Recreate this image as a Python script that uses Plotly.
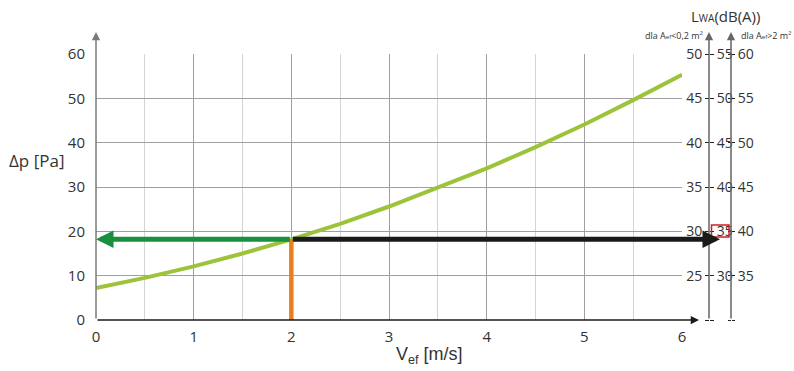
import plotly.graph_objects as go

# ---- data ----
v_ef = [0, 0.5, 1, 1.5, 2, 2.5, 3, 3.5, 4, 4.5, 5, 5.5, 6]
dp = [7.2, 9.5, 12.1, 15.0, 18.2, 21.7, 25.6, 29.8, 34.2, 39.0, 44.1, 49.6, 55.3]
x_ticks = [0, 1, 2, 3, 4, 5, 6]
dp_ticks = [0, 10, 20, 30, 40, 50, 60]
v_sel = 2.0
dp_sel = 18.2
lwa_small = [20, 25, 30, 35, 40, 45, 50]   # dla Aef<0,2 m²
lwa_mid = [25, 30, 35, 40, 45, 50, 55]
lwa_large = [30, 35, 40, 45, 50, 55, 60]   # dla Aef>2 m²
lwa_highlight = 35

W, H = 794, 371
ML, MR, MT, MB = 96, 0, 54, 51
PW = W - ML - MR
PH = H - MT - MB


def px(xpix):
    return (xpix - ML) / PW


def py(ypix):
    return (H - MB - ypix) / PH


FONT = "Open Sans"
TXT = "#333333"
DARK_GRID = "#a0a0a0"
LIGHT_GRID = "#d4d4d4"
AX_GRAY = "#7a7a7a"

fig = go.Figure()

fig.add_trace(go.Scatter(x=v_ef, y=dp, mode="lines",
                         line=dict(color="#9dc33b", width=4),
                         hoverinfo="skip", showlegend=False))
fig.add_trace(go.Scatter(x=[v_sel, v_sel], y=[0, dp_sel], mode="lines",
                         line=dict(color="#e8801e", width=4.5),
                         hoverinfo="skip", showlegend=False))

# invisible traces registering the right-hand axes
for ax_name, vals in (("y2", lwa_small), ("y3", lwa_mid), ("y4", lwa_large), ("y5", lwa_large)):
    fig.add_trace(go.Scatter(x=[0] * len(vals), y=vals, yaxis=ax_name, mode="markers",
                             marker=dict(opacity=0), hoverinfo="skip", showlegend=False))

ax1 = px(709)
ax2 = px(731)
tickfont_r = dict(family=FONT, size=14, color=TXT)


def lab(vals):
    return [str(v) if i > 0 else "" for i, v in enumerate(vals)]


fig.update_layout(
    width=W, height=H,
    margin=dict(l=ML, r=MR, t=MT, b=MB, autoexpand=False),
    paper_bgcolor="white", plot_bgcolor="white",
    showlegend=False,
    xaxis=dict(range=[0, 6], domain=[0, px(682)], tickvals=x_ticks,
               showgrid=True, gridcolor=DARK_GRID, gridwidth=1,
               minor=dict(dtick=0.5, showgrid=True, gridcolor=LIGHT_GRID, gridwidth=1),
               zeroline=False, showline=False,
               ticks="outside", ticklen=3, tickcolor="rgba(0,0,0,0)",
               tickfont=dict(family=FONT, size=15, color=TXT)),
    yaxis=dict(range=[0, 60], tickvals=dp_ticks,
               showgrid=True, gridcolor=DARK_GRID, gridwidth=1,
               zeroline=False, showline=False,
               ticks="outside", ticklen=7, tickcolor="rgba(0,0,0,0)",
               tickfont=dict(family=FONT, size=15, color=TXT)),
    yaxis2=dict(overlaying="y", anchor="free", position=ax1, side="left",
                range=[lwa_small[0], lwa_small[-1]], tickvals=lwa_small, ticktext=lab(lwa_small),
                showgrid=False, zeroline=False, showline=False,
                ticks="outside", ticklen=4, tickcolor="#222", tickwidth=1.2,
                tickfont=tickfont_r),
    yaxis3=dict(overlaying="y", anchor="free", position=ax1, side="right",
                range=[lwa_mid[0], lwa_mid[-1]], tickvals=lwa_mid, ticktext=lab(lwa_mid),
                showgrid=False, zeroline=False, showline=False,
                ticks="outside", ticklen=4, tickcolor="#222", tickwidth=1.2,
                tickfont=tickfont_r),
    yaxis4=dict(overlaying="y", anchor="free", position=ax2, side="right",
                range=[lwa_large[0], lwa_large[-1]], tickvals=lwa_large, ticktext=lab(lwa_large),
                showgrid=False, zeroline=False, showline=False,
                ticks="outside", ticklen=3, tickcolor="#222", tickwidth=1.2,
                tickfont=tickfont_r),
    yaxis5=dict(overlaying="y", anchor="free", position=ax2, side="left",
                range=[lwa_large[0], lwa_large[-1]], tickvals=lwa_large,
                showticklabels=False,
                showgrid=False, zeroline=False, showline=False,
                ticks="outside", ticklen=3, tickcolor="#222", tickwidth=1.2),
)

tip_y = py(32)
anns = []
# y axis line with arrow
anns.append(dict(x=0, y=tip_y, xref="x", yref="paper", ax=0, ay=(H - MB) - 32,
                 axref="pixel", ayref="pixel", text="", showarrow=True,
                 arrowhead=2, arrowsize=1.1, arrowwidth=1.5, arrowcolor=AX_GRAY))
# x axis line with arrow
anns.append(dict(x=px(699), y=0, xref="paper", yref="y", ax=-(699 - ML), ay=0,
                 text="", showarrow=True,
                 arrowhead=2, arrowsize=1.1, arrowwidth=1.5, arrowcolor="#1a1a1a"))
# right axes lines with arrows
for axx in (ax1, ax2):
    anns.append(dict(x=axx, y=tip_y, xref="paper", yref="paper", ax=0, ay=(H - MB) - 32,
                     text="", showarrow=True,
                     arrowhead=2, arrowsize=1.1, arrowwidth=1.5, arrowcolor="#666666"))
# green arrow to dp axis
anns.append(dict(x=0, y=dp_sel, xref="x", yref="y", ax=v_sel, ay=dp_sel,
                 axref="x", ayref="y", text="", showarrow=True,
                 arrowhead=2, arrowsize=0.7, arrowwidth=5, arrowcolor="#189040"))
# black arrow to LWA axis
x_sel_pix = ML + v_sel / 6 * (682 - ML)
anns.append(dict(x=px(720), y=dp_sel, xref="paper", yref="y", ax=-(720 - x_sel_pix), ay=0,
                 text="", showarrow=True,
                 arrowhead=2, arrowsize=0.7, arrowwidth=5, arrowcolor="#1a1a1a"))
# titles
anns.append(dict(x=px(36), y=py(160), xref="paper", yref="paper", showarrow=False,
                 xanchor="center", yanchor="middle",
                 text="Δp [Pa]", font=dict(family=FONT, size=17, color=TXT)))
anns.append(dict(x=px(429), y=py(355), xref="paper", yref="paper", showarrow=False,
                 xanchor="center", yanchor="middle",
                 text="V<sub>ef</sub> [m/s]",
                 font=dict(family="Liberation Sans", size=18, color=TXT)))
anns.append(dict(x=px(689), y=py(16), xref="paper", yref="paper", showarrow=False,
                 xanchor="left", yanchor="middle",
                 text="L<span style='font-size:10px'>WA</span>(dB(A))",
                 font=dict(family=FONT, size=15, color=TXT)))
anns.append(dict(x=px(705), y=py(35), xref="paper", yref="paper", showarrow=False,
                 xanchor="right", yanchor="middle",
                 text="dla A<span style='font-size:6px'>ef</span>&lt;0,2 m²",
                 font=dict(family=FONT, size=9, color=TXT)))
anns.append(dict(x=px(739), y=py(35), xref="paper", yref="paper", showarrow=False,
                 xanchor="left", yanchor="middle",
                 text="dla A<span style='font-size:6px'>ef</span>&gt;2 m²",
                 font=dict(family=FONT, size=9, color=TXT)))
fig.update_layout(annotations=anns)

# red box around highlighted LWA value
fig.add_shape(type="rect", xref="paper", yref="paper",
              x0=px(711.5), x1=px(729), y0=py(237), y1=py(225),
              line=dict(color="#d0202a", width=1.5), fillcolor="rgba(0,0,0,0)")

fig.write_html("out.html", config={"displayModeBar": False},
               post_script="document.body.style.margin='0';document.body.style.overflow='hidden';")
